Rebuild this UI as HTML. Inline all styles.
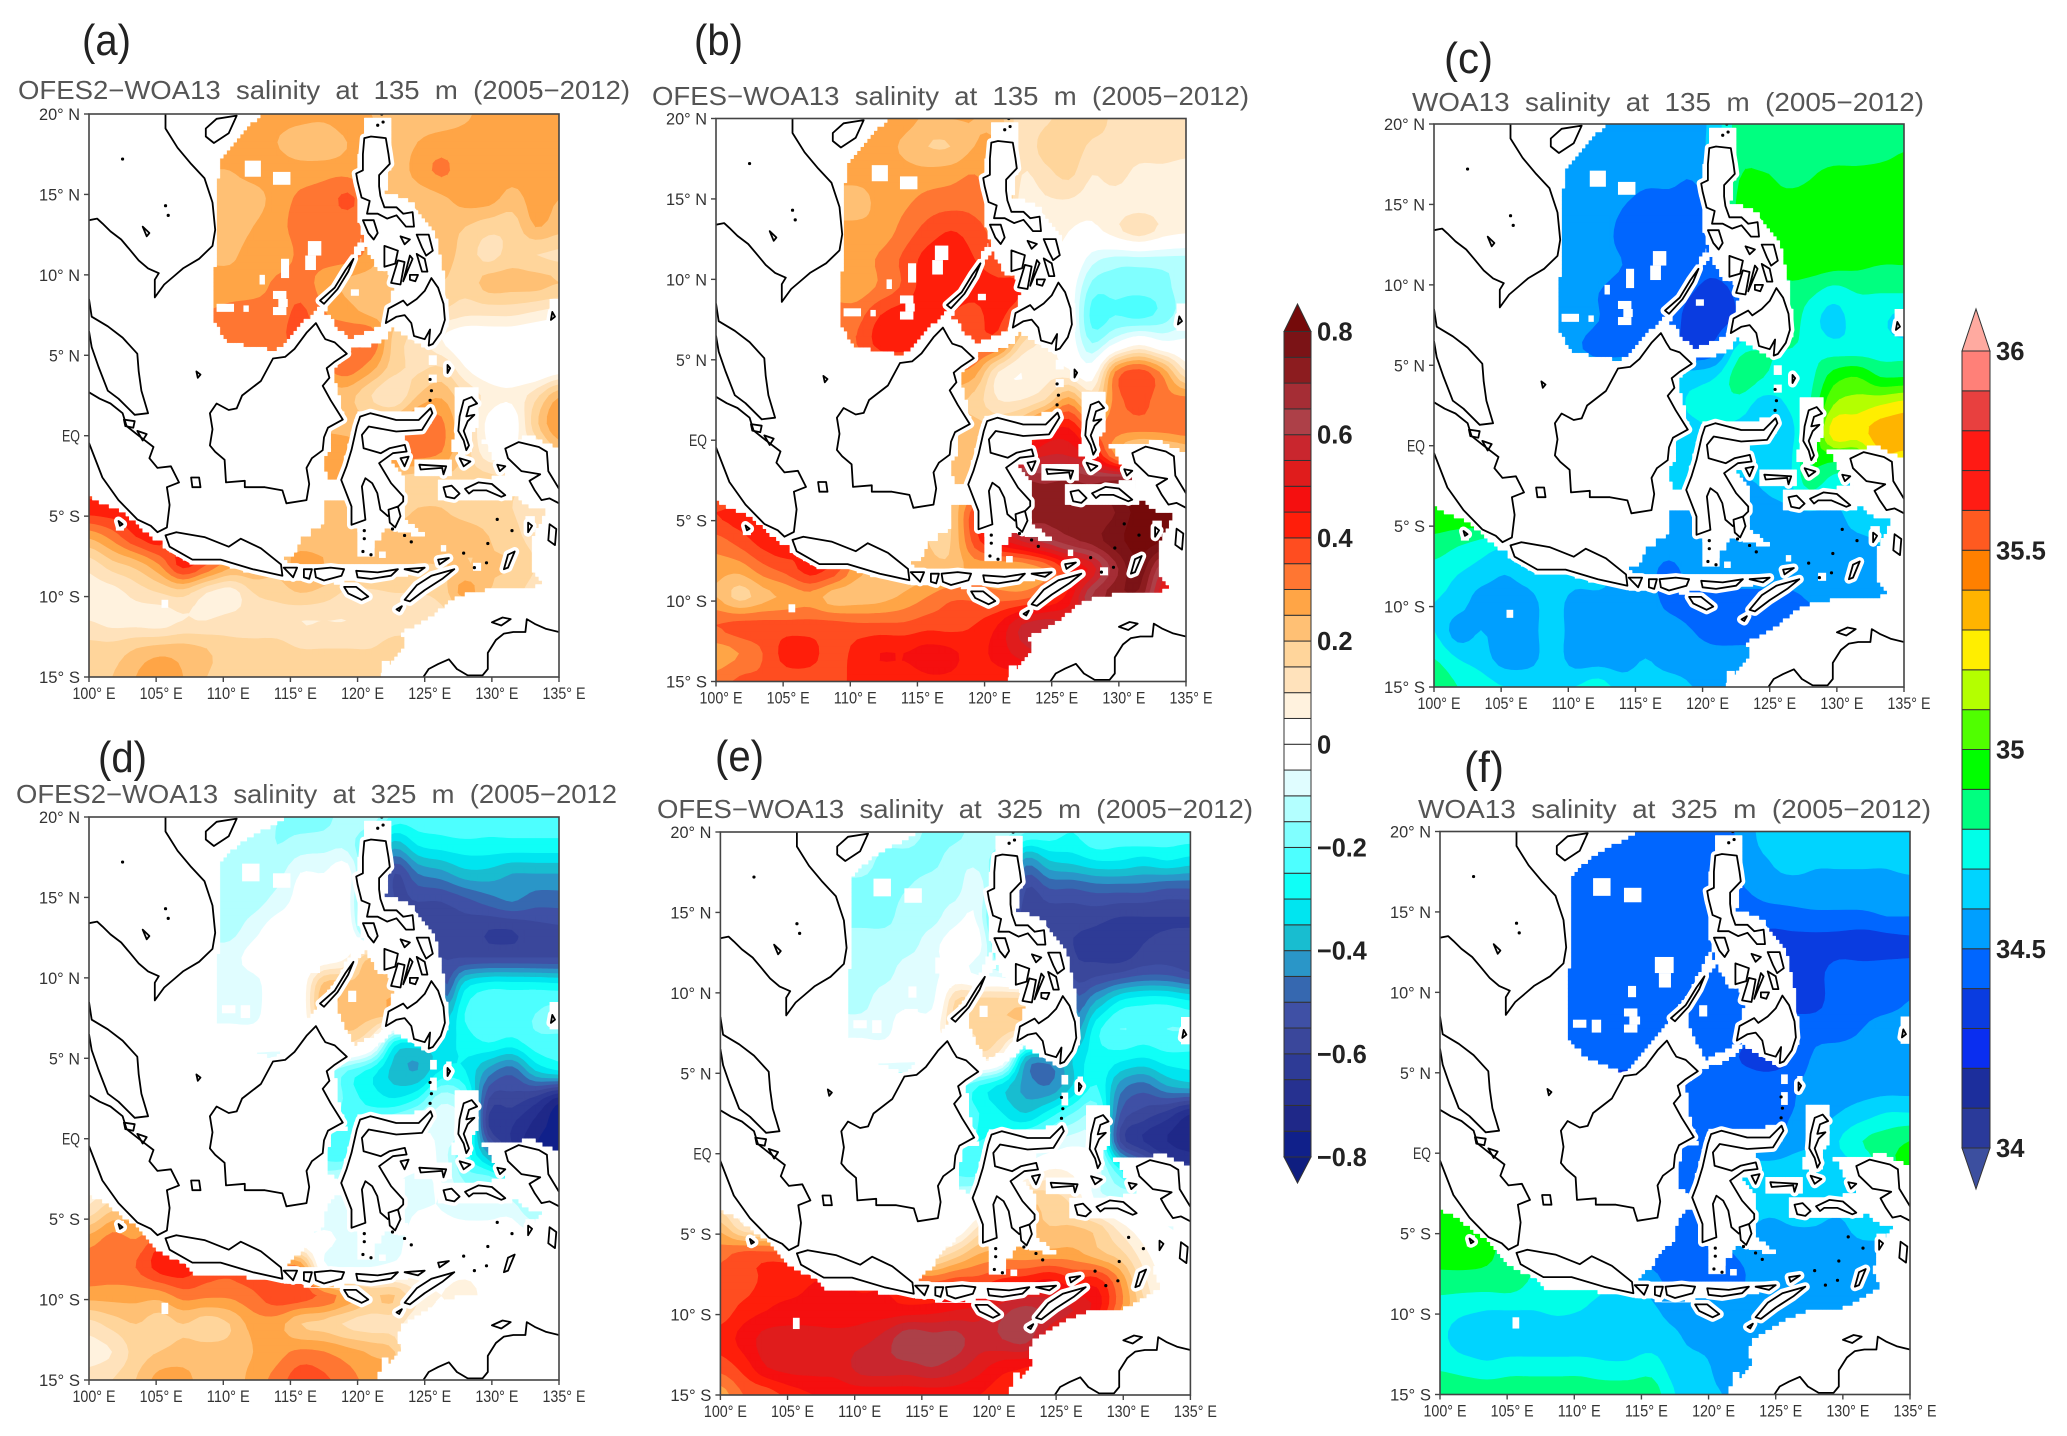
<!DOCTYPE html>
<html lang="en">
<head>
<meta charset="utf-8">
<title>Salinity maps at 135 m and 325 m</title>
<style>
html,body{margin:0;padding:0;background:#fff;width:2067px;height:1436px;overflow:hidden}
svg{display:block}
text{font-family:"Liberation Sans",sans-serif;white-space:pre}
</style>
</head>
<body>
<svg id="figure" xmlns="http://www.w3.org/2000/svg" width="2067" height="1436" viewBox="0 0 2067 1436"></svg>
<script>
// Longitudes run 100..135 E and latitudes 20 N..15 S; every grid below has 21 rows x 21 columns.
const lonTicks=[100,105,110,115,120,125,130,135];
const latTicks=[20,15,10,5,0,-5,-10,-15];
// Salinity differences in 0.01 units
const ofes2Minus135=[
[27,27,27,27,27,27,27,27,27,27,27,30,25,22,22,22,24,27,27,27,27],
[27,27,27,27,27,27,27,27,25,22,20,25,27,22,25,27,27,27,27,27,28],
[25,25,25,25,25,25,25,27,27,27,28,28,25,22,27,31,27,27,27,27,27],
[22,22,22,22,22,22,22,23,27,31,32,36,30,22,22,24,27,27,23,27,25],
[22,22,22,22,22,22,22,25,28,32,32,32,30,22,22,22,20,17,17,25,22],
[24,24,24,24,24,24,24,27,27,31,32,32,28,20,22,22,18,13,17,15,14],
[27,27,27,27,27,27,27,27,31,32,28,24,22,20,20,20,17,22,22,22,20],
[30,30,30,30,30,30,31,32,32,36,30,27,23,22,20,15,12,12,12,10,8],
[32,32,32,32,32,32,32,32,33,37,33,34,34,18,13,5,0,0,0,-2,-3],
[30,30,30,30,30,30,30,30,30,30,30,33,27,17,14,15,5,0,0,-3,0],
[22,22,22,22,22,22,22,22,22,22,22,22,15,10,20,24,15,8,6,13,24],
[24,24,24,24,24,24,24,24,24,24,24,23,22,25,32,31,18,3,1,18,30],
[27,27,27,27,27,27,27,27,27,27,27,27,24,32,33,30,18,6,6,10,20],
[30,30,30,28,27,27,27,27,27,27,27,25,20,18,17,18,18,17,15,12,12],
[42,42,40,30,25,25,25,25,25,25,22,24,20,18,20,20,18,17,15,12,10],
[26,32,40,42,30,25,25,25,24,22,22,25,22,22,22,22,22,20,17,12,8],
[12,18,22,30,42,35,27,25,22,27,25,22,22,22,20,20,20,20,20,15,8],
[8,8,12,15,17,10,7,15,17,20,18,14,14,15,15,17,27,20,17,12,8],
[10,8,8,7,10,10,12,12,12,10,10,10,12,13,13,13,13,13,13,13,13],
[17,17,20,22,22,20,17,17,17,15,15,15,15,17,17,17,17,17,17,17,17],
[20,20,25,30,25,20,20,20,20,20,20,20,20,20,20,20,20,20,20,20,20]];
const ofesMinus135=[
[27,27,27,27,27,27,27,27,27,24,25,25,22,12,14,17,17,14,13,13,13],
[27,27,27,27,27,27,27,27,24,20,20,25,25,12,17,18,14,14,13,13,12],
[27,27,27,27,27,27,27,27,27,27,28,30,25,10,13,16,10,12,8,8,7],
[22,22,22,22,22,22,22,27,29,32,33,33,30,7,9,9,7,7,7,7,7],
[27,27,27,27,27,27,27,27,32,37,40,37,30,5,8,5,3,8,13,8,6],
[27,27,27,27,27,27,27,31,36,42,43,40,35,25,5,3,-8,-12,-12,-12,-12],
[27,27,27,27,27,27,27,31,36,43,43,42,42,40,10,0,-17,-18,-18,-17,-12],
[33,33,33,33,33,33,33,40,43,43,40,38,42,30,10,0,-22,-20,-22,-18,-12],
[35,35,35,35,35,35,35,42,43,43,40,38,35,15,8,0,-15,-5,3,-3,-3],
[30,30,30,30,30,30,30,30,30,30,30,27,10,5,8,6,0,30,37,28,10],
[22,22,22,22,22,22,22,22,22,22,22,18,10,10,15,27,15,32,37,32,32],
[22,22,22,22,22,22,22,22,22,22,22,22,22,28,42,45,33,32,32,32,33],
[24,24,24,24,24,24,24,24,24,24,24,24,40,50,55,55,48,30,20,22,25],
[30,30,30,28,27,27,27,27,27,27,24,24,50,70,70,72,70,75,78,78,78],
[40,42,42,30,25,25,25,25,22,20,20,38,45,72,72,72,70,75,82,82,80],
[33,37,42,42,30,25,25,25,22,20,20,37,47,55,62,68,72,78,82,80,70],
[27,27,33,37,42,38,27,24,22,22,22,27,25,25,30,42,52,68,78,60,50],
[25,18,23,26,28,22,22,23,26,30,34,34,33,33,38,47,65,72,72,50,40],
[35,37,37,37,37,37,36,36,36,38,38,40,45,55,58,55,50,50,50,50,50],
[27,30,35,42,42,37,42,45,45,47,46,43,47,52,55,50,50,50,50,50,50],
[32,36,36,37,37,37,42,42,42,44,44,42,42,42,42,42,42,42,42,42,42]];
const ofes2Minus325=[
[-7,-7,-7,-7,-7,-7,-7,-12,-15,-17,-17,-12,-12,-22,-22,-22,-20,-22,-22,-22,-22],
[-7,-7,-7,-7,-7,-7,-12,-12,-15,-13,-12,-12,-25,-38,-30,-28,-27,-27,-27,-27,-27],
[-12,-12,-12,-12,-12,-12,-12,-12,-12,-5,-5,-2,-30,-55,-45,-42,-37,-37,-40,-40,-40],
[-12,-12,-12,-12,-12,-12,-12,-12,-8,-3,-2,-2,-40,-55,-55,-55,-52,-48,-45,-48,-48],
[-12,-12,-12,-12,-12,-12,-12,-7,-2,-2,-2,0,-30,-55,-56,-56,-57,-60,-60,-57,-56],
[-7,-7,-7,-7,-7,-7,-7,-3,-3,-1,0,5,20,5,-50,-55,-55,-55,-55,-55,-55],
[-7,-7,-7,-7,-7,-7,-7,-7,-1,0,22,22,22,22,22,-48,-32,-27,-27,-27,-28],
[-7,-7,-7,-7,-7,-7,-7,-7,0,0,22,22,22,22,22,-35,-25,-20,-22,-20,-18],
[-2,-2,-2,-2,-2,-2,-2,-2,-2,-2,5,15,5,-27,-30,-33,-28,-25,-27,-22,-22],
[-12,-12,-12,-12,-12,-12,-12,-12,-12,-12,-12,-20,-27,-37,-40,-30,-30,-42,-48,-35,-30],
[-12,-12,-12,-12,-12,-12,-12,-12,-12,-12,-12,-22,-27,-30,-25,-12,-20,-55,-57,-62,-72],
[-20,-20,-20,-20,-20,-20,-20,-20,-20,-20,-20,-22,-18,-12,-7,-7,-12,-60,-65,-72,-78],
[-22,-22,-22,-22,-22,-22,-22,-22,-22,-22,-22,-22,-7,-2,-2,-7,-22,-40,-60,-70,-75],
[3,3,0,0,-5,-5,-5,-5,-5,-5,-10,-7,-5,-5,-7,-5,-15,-15,-20,-25,-25],
[12,20,20,15,5,0,0,0,-5,-10,-10,-7,-5,-7,-5,-5,-7,-7,-7,-15,-10],
[27,32,30,37,40,30,20,10,0,-3,-3,-7,-7,-7,-2,-2,-2,-2,-2,-2,-2],
[33,33,35,42,43,37,35,35,30,30,-3,-5,-5,-3,0,0,0,0,0,0,0],
[27,27,27,27,32,31,31,34,38,38,33,27,20,20,10,5,10,0,0,0,0],
[13,17,20,17,20,17,20,27,27,20,18,14,12,12,5,0,0,0,0,0,0],
[8,10,17,20,22,22,22,25,28,31,30,27,24,20,0,0,0,0,0,0,0],
[12,15,20,27,27,22,22,27,32,38,36,32,28,25,0,0,0,0,0,0,0]];
const ofesMinus325=[
[-12,-12,-12,-12,-12,-12,-12,-12,-12,-17,-17,-12,-12,-20,-22,-25,-20,-22,-20,-22,-22],
[-12,-12,-12,-12,-12,-12,-12,-17,-17,-17,-12,-12,-22,-42,-35,-33,-30,-30,-32,-30,-32],
[-17,-17,-17,-17,-17,-17,-17,-17,-15,-12,-12,-7,-30,-55,-50,-50,-48,-48,-48,-50,-50],
[-17,-17,-17,-17,-17,-17,-17,-17,-12,-12,-7,-7,-40,-58,-58,-58,-58,-60,-60,-60,-60],
[-12,-12,-12,-12,-12,-12,-12,-12,-12,-7,-2,-3,-30,-60,-58,-60,-62,-65,-60,-58,-58],
[-12,-12,-12,-12,-12,-12,-12,-12,-7,-7,-2,-7,-10,-20,-40,-57,-57,-55,-52,-52,-55],
[-12,-12,-12,-12,-12,-12,-12,-7,-7,-7,15,17,17,17,15,-45,-40,-30,-27,-27,-30],
[-7,-7,-7,-7,-7,-7,-7,-7,0,0,15,15,17,15,15,-40,-27,-20,-22,-20,-20],
[-3,-3,-3,-3,-3,-3,-3,-3,-3,-3,0,12,3,-37,-40,-35,-27,-28,-30,-27,-27],
[-17,-17,-17,-17,-17,-17,-17,-17,-17,-17,-17,-25,-32,-42,-45,-35,-25,-42,-47,-40,-37],
[-22,-22,-22,-22,-22,-22,-22,-22,-22,-22,-22,-25,-30,-35,-28,-20,-17,-50,-57,-62,-70],
[-22,-22,-22,-22,-22,-22,-22,-22,-22,-22,-22,-25,-22,-17,-12,-7,-12,-55,-65,-70,-72],
[-22,-22,-22,-22,-22,-22,-22,-22,-22,-22,-22,-22,-7,-2,5,3,-7,-25,-40,-55,-60],
[5,5,5,5,0,0,0,0,-5,-10,-10,-7,0,17,17,12,-7,-10,-10,-10,-10],
[22,10,10,10,5,0,0,0,-3,-3,-3,10,17,22,20,20,17,7,0,-5,-7],
[33,37,37,37,37,30,20,15,10,10,17,25,27,27,27,27,22,17,7,0,0],
[37,37,42,42,45,45,42,42,37,35,38,38,42,44,47,42,43,30,12,3,0],
[37,42,45,47,47,46,47,47,47,48,50,52,58,62,58,55,47,30,15,0,0],
[42,47,52,52,52,52,53,57,64,62,62,57,60,62,50,40,30,10,0,0,0],
[37,42,50,52,52,52,57,58,58,60,57,52,47,45,42,30,10,0,0,0,0],
[27,35,37,42,45,47,47,47,47,47,47,45,42,42,30,10,0,0,0,0,0]];
// Absolute salinity in 0.01 units
const woa135=[
[3455,3455,3455,3455,3455,3455,3455,3455,3455,3455,3455,3455,3465,3485,3485,3485,3485,3485,3485,3485,3485],
[3455,3455,3455,3455,3455,3455,3455,3455,3455,3455,3455,3455,3465,3485,3485,3485,3485,3485,3485,3487,3490],
[3455,3455,3455,3455,3455,3455,3455,3455,3455,3452,3452,3450,3460,3490,3492,3488,3490,3495,3495,3495,3495],
[3455,3455,3455,3455,3455,3455,3455,3455,3450,3445,3445,3445,3455,3495,3495,3495,3495,3495,3495,3495,3495],
[3455,3455,3455,3455,3455,3455,3455,3455,3447,3445,3445,3445,3450,3495,3495,3495,3495,3495,3495,3495,3495],
[3455,3455,3455,3455,3455,3455,3455,3455,3450,3445,3445,3445,3445,3460,3490,3495,3495,3493,3492,3490,3490],
[3455,3455,3455,3455,3455,3455,3455,3450,3445,3445,3445,3440,3435,3445,3470,3485,3482,3475,3480,3480,3480],
[3455,3455,3455,3455,3455,3455,3455,3450,3445,3445,3445,3435,3435,3445,3475,3485,3475,3465,3475,3472,3465],
[3452,3452,3452,3452,3452,3452,3452,3445,3445,3445,3445,3440,3445,3475,3480,3480,3478,3475,3475,3475,3475],
[3465,3465,3465,3465,3465,3465,3465,3465,3465,3465,3465,3465,3470,3485,3480,3475,3477,3495,3500,3490,3490],
[3465,3465,3465,3465,3465,3465,3465,3465,3465,3465,3465,3472,3475,3475,3465,3470,3480,3510,3515,3520,3525],
[3465,3465,3465,3465,3465,3465,3465,3465,3465,3465,3465,3465,3470,3465,3465,3465,3485,3525,3525,3535,3535],
[3495,3495,3490,3480,3470,3465,3465,3465,3465,3465,3465,3465,3465,3465,3465,3465,3490,3490,3490,3520,3520],
[3495,3495,3495,3490,3480,3470,3465,3465,3465,3465,3465,3460,3455,3455,3460,3465,3480,3470,3465,3465,3465],
[3495,3495,3495,3490,3480,3470,3465,3460,3455,3455,3455,3455,3455,3455,3455,3455,3455,3455,3465,3465,3465],
[3485,3480,3475,3470,3470,3465,3460,3455,3455,3455,3455,3455,3455,3455,3455,3455,3455,3455,3455,3460,3465],
[3475,3470,3465,3460,3465,3470,3465,3465,3455,3455,3445,3455,3455,3455,3455,3455,3455,3455,3455,3455,3455],
[3470,3465,3455,3455,3455,3465,3455,3455,3455,3455,3447,3445,3445,3445,3445,3445,3450,3450,3450,3450,3450],
[3470,3455,3460,3455,3455,3465,3455,3455,3455,3455,3455,3450,3445,3445,3445,3445,3445,3445,3445,3445,3445],
[3480,3470,3465,3455,3455,3465,3455,3455,3455,3460,3455,3455,3455,3455,3455,3455,3455,3455,3455,3455,3455],
[3490,3480,3475,3470,3470,3470,3470,3475,3465,3465,3465,3460,3460,3460,3460,3460,3460,3460,3460,3460,3460]];
const woa325=[
[3445,3445,3445,3445,3445,3445,3445,3445,3445,3445,3445,3445,3445,3455,3465,3465,3465,3465,3465,3465,3465],
[3445,3445,3445,3445,3445,3445,3445,3445,3445,3445,3445,3445,3445,3455,3460,3465,3462,3462,3462,3462,3465],
[3445,3445,3445,3445,3445,3445,3445,3445,3445,3445,3445,3445,3445,3450,3455,3455,3455,3455,3455,3455,3455],
[3445,3445,3445,3445,3445,3445,3445,3445,3445,3445,3445,3445,3445,3445,3445,3447,3448,3448,3448,3450,3450],
[3445,3445,3445,3445,3445,3445,3445,3445,3445,3445,3445,3445,3445,3445,3435,3435,3435,3435,3433,3435,3437],
[3445,3445,3445,3445,3445,3445,3445,3445,3445,3445,3445,3445,3445,3440,3435,3437,3437,3445,3445,3445,3445],
[3445,3445,3445,3445,3445,3445,3445,3445,3445,3445,3445,3445,3445,3445,3437,3435,3437,3445,3445,3445,3450],
[3445,3445,3445,3445,3445,3445,3445,3445,3445,3445,3445,3445,3445,3445,3445,3445,3445,3445,3450,3455,3455],
[3445,3445,3445,3445,3445,3445,3445,3445,3445,3445,3445,3445,3445,3438,3435,3440,3452,3455,3455,3455,3455],
[3435,3435,3435,3435,3435,3435,3435,3435,3435,3435,3435,3445,3445,3445,3445,3448,3455,3455,3455,3455,3455],
[3445,3445,3445,3445,3445,3445,3445,3445,3445,3445,3445,3445,3445,3440,3445,3450,3455,3460,3465,3470,3470],
[3445,3445,3445,3445,3445,3445,3445,3445,3445,3445,3445,3445,3445,3445,3445,3455,3460,3470,3480,3485,3490],
[3495,3495,3490,3470,3460,3450,3445,3445,3445,3445,3445,3450,3460,3465,3465,3465,3465,3465,3470,3485,3490],
[3495,3490,3490,3475,3460,3450,3445,3445,3445,3445,3445,3450,3460,3465,3465,3465,3465,3465,3465,3465,3465],
[3495,3495,3492,3485,3470,3455,3445,3445,3445,3445,3445,3450,3455,3460,3458,3460,3460,3458,3465,3465,3465],
[3495,3495,3492,3485,3480,3470,3460,3450,3445,3445,3445,3445,3448,3452,3455,3455,3455,3455,3455,3455,3455],
[3485,3485,3485,3485,3478,3475,3475,3470,3465,3455,3445,3445,3447,3450,3455,3455,3455,3455,3455,3455,3455],
[3475,3472,3470,3470,3470,3472,3470,3465,3465,3462,3455,3455,3455,3455,3455,3455,3455,3455,3455,3455,3455],
[3472,3465,3465,3462,3462,3462,3462,3465,3465,3465,3462,3455,3455,3455,3455,3455,3455,3455,3455,3455,3455],
[3478,3475,3472,3475,3475,3475,3475,3472,3472,3475,3465,3465,3455,3455,3455,3455,3455,3455,3455,3455,3455],
[3490,3488,3488,3487,3487,3487,3487,3487,3487,3486,3470,3465,3460,3455,3455,3455,3455,3455,3455,3455,3455]];

const anomalyLevels=[-80,-75,-70,-65,-60,-55,-50,-45,-40,-35,-30,-25,-20,-15,-10,-5,0,5,10,15,20,25,30,35,40,45,50,55,60,65,70,75,80];
const anomalyColors=["#0f1e80","#10208a","#1f2888","#263190","#2e3b96","#3a479b","#3f50a5","#3668b0","#2a96c8","#18bdd0","#00e5f0","#0ffff7","#4dffff","#80ffff","#b3ffff","#e0fdff","#ffffff","#ffffff","#fff2de","#ffe2bb","#ffd59b","#ffc074","#ffa546","#ff7632","#ff4d20","#ff1e0a","#f50f0f","#e01c1c","#c9262e","#ad4048","#a52d35","#8c1c1f","#7b1316","#750a0a"];
const anomalyLabels=[0.8,0.6,0.4,0.2,0,-0.2,-0.4,-0.6,-0.8];
const salinityLevels=[3400,3410,3420,3430,3440,3450,3460,3470,3480,3490,3500,3510,3520,3530,3540,3550,3560,3570,3580,3590,3600];
const salinityColors=["#3c4f9f","#2a3a9a","#1c2e9c","#0a2ef0","#0a3ce0","#0066ff","#009fff","#00d4ff","#00ffe8","#00ff80","#00ff00","#50ff00","#b4ff00","#ffee00","#ffb400","#ff8000","#ff5a20","#ff1c14","#ff1a14","#e8403f","#ff8078","#ffaaa0"];
const salinityLabels=[36,35.5,35,34.5,34];

// Coastlines as lon/lat vertices
const openCoasts=[
[[105.7,20],[105.7,19.1],[106.6,17.9],[107.6,16.9],[108.6,16],[109.2,14.5],[109.4,12.8],[109.2,11.8],[108.2,11],[107,10.4],[106.3,9.9],[105.6,9.4],[104.9,8.6],[104.9,9.7],[105.2,10.1],[104.4,10.4],[103.7,10.9],[103,11.6],[102.4,12.2],[101.6,12.7],[101,13.2],[100.6,13.5],[100,13.4]],
[[100,8.5],[100.2,7.4],[101.4,6.8],[102.5,6.1],[103.6,5.1],[103.7,4],[103.9,2.8],[104.4,1.4],[103.4,1.3],[102.2,2.3],[101.4,2.8],[100.7,4.3],[100.2,5.5],[100,6.5]],
[[100,2.7],[100.8,2.3],[101.6,2],[102.5,1.4],[102.8,.6],[103.7,0],[104.8,-.7],[104.5,-1.4],[105.1,-2],[106.1,-1.9],[106.7,-2.9],[105.8,-3.2],[106,-4.3],[105.8,-5.7],[105.1,-6],[104.6,-5.6],[103.6,-5.2],[102.2,-4],[101,-2.6],[100,-.45]],
[[124.9,-15],[125.3,-14.5],[126,-14.2],[126.8,-13.9],[127.4,-14.5],[128.2,-14.9],[129.3,-14.9],[129.7,-14.5],[129.7,-13.5],[130.3,-12.7],[130.9,-12.3],[131.6,-12.2],[132.5,-12.2],[132.6,-11.4],[133.2,-11.7],[134,-12],[135,-12.2]],
[[135,-3.3],[134.2,-2.2],[134.1,-1],[133.5,-.7],[132,-.4],[131,-.8],[131.2,-1.4],[132.2,-2.2],[133.6,-2.4],[132.8,-2.8],[133.2,-3.4],[133.7,-4],[134.3,-3.9],[135,-4.2]]
];
const islands=[
[[116.9,7],[117.3,6.4],[117.6,6],[118.3,5.8],[119.2,5.1],[118.3,4.6],[117.7,4.2],[117.9,3.6],[117.4,3.1],[118,2.2],[118.9,1],[117.8,.5],[117.5,-.1],[117.4,-.9],[116.6,-1.4],[116.2,-2],[116.4,-3],[116.2,-4],[114.7,-4.2],[114.4,-3.4],[113.1,-3.2],[111.6,-3.2],[111.6,-2.8],[110.2,-2.9],[110.1,-1.5],[109.4,-1],[109,-.6],[109.2,.4],[109,1.4],[109.5,2],[110.4,1.6],[111,1.7],[111.4,2.5],[112.8,3.4],[113.7,4.8],[114.6,4.9],[115.3,5.4],[116.2,6.4]],
[[105.7,-6.2],[106.5,-6],[108.6,-6.3],[110.4,-6.9],[111.3,-6.4],[112.8,-7],[114.3,-8],[114.4,-8.7],[112.2,-8.3],[109.8,-7.7],[107.7,-7.7],[106,-6.9]],
[[108.7,19.1],[109.5,19.7],[111,19.9],[110.4,18.8],[109.3,18.2],[108.7,18.6]],
[[117.2,8.4],[118.3,9.2],[119.1,10.3],[119.7,11],[119.3,10.2],[118.5,9.1],[117.5,8.2]],
[[120.5,18.5],[121,18.6],[122.1,18.5],[122.3,17.5],[122.4,16.9],[121.6,16.2],[121.6,15.5],[121.7,14.9],[122,14.2],[122.9,14.2],[123.4,13.8],[124.1,13.9],[124.2,13],[123.6,13],[122.9,13.7],[122.2,13.5],[121.5,13.8],[120.7,13.8],[120.9,14.6],[120.3,14.8],[120,15.8],[119.9,16.3],[120.4,16.5],[120.4,17.5]],
[[120.4,13.4],[121.2,13.4],[121.5,12.6],[121.2,12.2],[120.8,12.6]],
[[124.4,12.5],[125.3,12.5],[125.6,11.5],[125.1,11.2],[124.8,11.7]],
[[124.4,11.3],[125,11],[125.2,10.2],[124.8,10.2]],
[[122,11.8],[123,11.5],[122.8,10.7],[122,10.5]],
[[123,10.9],[123.5,10.8],[123.2,9.4],[122.5,9.5]],
[[123.9,11.2],[124.1,11],[123.4,9.6]],
[[123.9,10],[124.5,10],[124.3,9.6],[123.9,9.7]],
[[123.2,12.4],[123.9,12.2],[123.5,11.9]],
[[125.5,9.8],[126,9.2],[126.4,8.2],[126.5,7.2],[126.2,6.4],[125.6,5.7],[125.3,5.6],[125.4,6.6],[125,6],[124.2,6.2],[124,7],[123.5,7.5],[122.9,7.4],[122.1,7],[122.3,7.9],[123.4,8.4],[123.7,8.1],[124.4,8.5],[125,9]],
[[120.96,1.4],[122.88,.98],[124.55,.98],[125.44,1.71],[125.57,1.4],[124.8,.36],[122.88,.26],[120.83,.57],[120.32,.05],[120.45,-.78],[121.73,-1.09],[122.37,-.78],[123.52,-.57],[123.65,-.98],[122.63,-1.09],[121.6,-1.71],[122.5,-2.95],[123.4,-3.78],[123.4,-4.09],[122.9,-4.5],[122.25,-5],[121.7,-4.6],[121.47,-3.57],[121.09,-2.95],[120.58,-2.64],[120.32,-3.16],[120.58,-5.23],[119.55,-5.54],[119.55,-4.4],[118.78,-2.75],[119.17,-1.92],[119.55,-.88],[119.94,.57],[120.19,1.19]],
[[122.3,-4.6],[123,-4.4],[123.2,-5],[122.8,-5.7],[122.4,-5.4]],
[[123.2,-1.4],[123.8,-1.3],[123.5,-1.9]],
[[124.6,-1.8],[126.6,-1.9],[126.4,-2.4],[126.3,-2],[124.7,-2.1]],
[[126.4,-3.2],[127,-3.1],[127.6,-3.6],[127.2,-3.9],[126.6,-3.8]],
[[128,-3.3],[129,-2.9],[130,-3],[131,-3.7],[130.7,-3.8],[129.6,-3.4],[128.6,-3.4],[128.3,-3.6]],
[[128.5,2.4],[127.9,2.2],[127.6,1.2],[127.5,.3],[127.9,-.3],[128.1,-.9],[128.3,-.6],[127.9,.3],[128.2,.9],[128.7,1.3],[128.1,1.2],[128.3,1.8],[128.9,2]],
[[127.6,-1.4],[128.4,-1.6],[127.9,-1.9]],
[[130.4,-1.8],[131,-1.9],[130.6,-2.2]],
[[131.2,-7.4],[131.7,-7.2],[131.2,-8.2],[130.9,-8.3]],
[[134.3,-5.5],[134.8,-5.8],[134.7,-6.8],[134.2,-6.5]],
[[132.7,-5.4],[133,-5.6],[132.7,-6]],
[[126,-7.7],[126.8,-7.6],[126.1,-8]],
[[123.5,-10.2],[124.4,-9.3],[125.5,-8.7],[127.2,-8.3],[126.3,-8.9],[125,-9.6],[123.9,-10.3]],
[[122.9,-10.8],[123.3,-10.6],[123.1,-10.9]],
[[119,-9.4],[119.9,-9.4],[120.8,-10],[120.3,-10.2],[119.3,-9.8]],
[[114.5,-8.2],[115.5,-8.2],[115.2,-8.8]],
[[116,-8.3],[116.6,-8.3],[116.4,-8.9],[116,-8.8]],
[[116.8,-8.3],[118,-8.2],[119,-8.3],[118.8,-8.7],[117.5,-9],[116.9,-8.8]],
[[119.9,-8.4],[121.5,-8.5],[123,-8.3],[122.5,-8.7],[121,-8.9],[120,-8.8]],
[[123.5,-8.3],[125,-8.2],[124.5,-8.5]],
[[130,-11.6],[130.8,-11.3],[131.4,-11.4],[130.7,-11.8]],
[[107.6,-2.6],[108.2,-2.6],[108.3,-3.2],[107.7,-3.2]],
[[108,4],[108.3,3.8],[108.1,3.6]],
[[102.6,1],[103.4,.9],[103.3,.5],[102.7,.6]],
[[103.6,.3],[104.3,.1],[104,-.3]],
[[104,13],[104.5,12.6],[104.3,12.4]],
[[134.5,7.7],[134.7,7.4],[134.4,7.2]],
[[126.7,4.4],[126.9,4.2],[126.7,3.9]],
[[102.2,-5.3],[102.5,-5.5],[102.3,-5.6]]
];
const islets=[[102.5,17.2],[105.7,14.3],[105.9,13.7],[125.4,3.5],[125.5,2.8],[125.4,2.2],[121.8,20],[121.9,19.5],[121.5,19.3],[129.7,-6.7],[130.4,-5.2],[131.5,-5.9],[127.9,-7.3],[128.7,-8.2],[129.6,-7.9],[120.5,-5.9],[120.5,-6.4],[120.4,-7.2],[121,-7.4],[122.6,-5.8],[123.5,-6.2],[124,-6.6]];

// Masked (no-data) regions as lon/lat vertices
const westMask135=[[100,20],[113,20],[111.6,18.8],[109.9,17.3],[109.6,15.7],[109.6,12],[109.3,10],[109.2,7.1],[110.2,5.8],[113.4,5.3],[114.1,5.4],[117.1,8],[118.5,9.6],[119.6,11.2],[120.2,12.3],[120.6,11.6],[119.5,10.3],[118,8.5],[117.6,7.6],[118.3,6.8],[119.2,6],[120.5,6.4],[122.2,7.1],[122.5,6.5],[121.8,5.7],[119.6,5.4],[118.3,4.1],[118.3,3.2],[118.6,2.4],[119,1.1],[118.1,.7],[118.1,-.9],[117.4,-1.4],[117.7,-2.7],[119,-2.8],[119.2,-3.9],[117.4,-3.9],[117.4,-5.2],[117.5,-5.6],[116.6,-5.9],[116.5,-6.3],[115.8,-6.4],[115.3,-7.4],[114.6,-7.7],[114.7,-8.7],[112.2,-8.5],[109.8,-7.95],[107.7,-7.9],[106,-7.1],[105.4,-6.6],[104.9,-6.5],[104,-5.7],[102.5,-4.7],[101,-4.2],[100,-3.6]];
const southeastMask135=[[135,-4],[134.2,-4.4],[134,-5],[133,-6.5],[133,-8.5],[133.8,-9.2],[132.8,-9.6],[130.5,-9.5],[129,-9.7],[127.5,-10],[126,-11],[124.5,-11.8],[123.3,-12.3],[123.5,-13.2],[122.8,-14],[122,-14.6],[121.8,-15],[135,-15]];
const westMask325=[[100,20],[114.9,20],[111.5,18.5],[109.8,17.1],[109.8,13.3],[109.5,10],[109.5,7],[110.6,6],[113.2,5.1],[113.8,5.1],[116.6,7.8],[118.5,10],[120,12.5],[120.6,11.6],[119.5,10.6],[118.6,9.1],[118.4,7.9],[119.7,5.8],[121,6.3],[122.2,7.1],[122.4,6.4],[121.5,5.7],[119.5,5.2],[118.3,4.2],[118.5,2.5],[119.2,.6],[118,.6],[117.7,-2.2],[118.7,-2.8],[119,-3.5],[118.3,-3.5],[117.5,-4.6],[117.6,-5.5],[117.2,-5.7],[116.6,-6],[115.8,-7.2],[114.9,-7.7],[114.7,-8.8],[116.8,-9.2],[118.7,-9.2],[116.8,-9.3],[114.5,-8.8],[110,-8.5],[108,-8.4],[107,-7.7],[105.8,-7.2],[105,-6.8],[103.7,-5.5],[101.6,-4.1],[100,-3.5]];
const southeastMask325=[[135,-4],[134,-4.6],[132.8,-5.5],[132.3,-7.4],[132.8,-8.5],[130.6,-9.6],[126.9,-9.9],[123.4,-11.5],[122.9,-12.3],[123.3,-13.2],[121.5,-14.8],[121.4,-15],[135,-15]];
const sharedMasks=[
[[120.4,19.7],[122.5,19.7],[122.6,17.4],[122.1,15.1],[124,14.5],[124.6,13.7],[125.8,12.5],[126.4,10],[126.8,7.1],[126,5.7],[125.3,5.5],[123.8,6.2],[122.6,6.8],[122,7.4],[122.6,8.8],[122.7,10],[121.6,10.4],[120.7,11.7],[120.1,13.4],[119.8,16.2],[120.4,18.8]],
[[120.07,1.4],[125.57,1.7],[125.57,.85],[123.4,.15],[123.4,-1.1],[122.4,-1.8],[123.6,-2.75],[123.6,-5.2],[124.9,-6.3],[122.2,-5.7],[121,-7.3],[119.95,-5.85],[118.8,-2.75],[119.15,-.9],[119.9,1.2]],
[[120,-5.6],[121.2,-5.6],[121.2,-7.5],[120.1,-7.5]],
[[114.5,-8],[119,-7.95],[124.5,-7.9],[125,-8.5],[119,-9.15],[114.5,-9]],
[[127.1,-.9],[127.2,2.9],[129,2.9],[129.1,.6],[128.6,0],[128.5,-.9],[127.9,-1.3]],
[[129.3,-.2],[133,-.1],[135,-.9],[135,-4.4],[133,-4.5],[131.7,-3.7],[130.8,-1.9],[130.3,-1.6],[130,-1]],
[[124.3,-1.5],[126.9,-1.5],[126.9,-2.6],[124.3,-2.4]],
[[126,-2.7],[131.3,-2.6],[131.5,-4],[127.5,-4.1],[126,-4]]
];
// Missing-data boxes: lon1, lat1, lon2, lat2
const holes135=[[111.6,17.1,112.8,16.1],[113.7,16.4,115,15.6],[116.3,12.1,117.3,11.2],[116.1,11.2,116.9,10.3],[114.3,11,114.9,9.8],[112.7,10,113.1,9.4],[113.7,9,114.7,8.5],[114.1,8.5,114.8,8],[113.7,8,114.7,7.5],[109.5,8.2,110.8,7.7],[111.5,8.1,111.9,7.7],[119.5,9.1,120.1,8.7],[134.3,8.5,135,6.8],[125.3,5,125.9,4.4],[125.3,3.8,125.9,3.3],[121.6,-7.2,122.1,-7.6],[102,-5.2,102.6,-5.9],[121.8,-14,122.4,-14.8],[105.4,-10.2,105.9,-10.7],[132.5,-5,133.2,-6],[126.2,-6.8,126.6,-7.2],[128.6,-7.9,129.2,-8.4]];
const holes325=[[111.4,17.1,112.7,16],[113.7,16.5,115,15.6],[116,12.2,117.4,11.2],[116.3,11.2,117.2,10.3],[114,10.4,114.6,9.7],[113.7,9,114.7,8.5],[114.1,8.5,114.9,8],[113.7,8,114.7,7.5],[109.9,8.3,110.9,7.8],[111.3,8.3,112,7.5],[119.3,9.2,119.9,8.5],[134.3,8.5,135,6.8],[125.4,4.9,125.9,4.3],[125.4,3.8,125.9,3],[126.6,4.8,127,3.8],[121.6,-7.2,122.1,-7.6],[102,-5.1,102.6,-5.8],[105.4,-10.2,105.9,-10.9],[132.5,-5,133.2,-6],[121.8,-13.6,122.3,-14.6]];

const panels=[
{id:"a",x0:89,y0:114,grid:ofes2Minus135,scale:"anomaly",depth:135,title:"OFES2\u2212WOA13  salinity  at  135  m  (2005\u22122012)",tx:18,tw:612,ty:99,lx:82,ly:55},
{id:"b",x0:716,y0:118.5,grid:ofesMinus135,scale:"anomaly",depth:135,title:"OFES\u2212WOA13  salinity  at  135  m  (2005\u22122012)",tx:652,tw:597,ty:105,lx:694,ly:55},
{id:"c",x0:1434,y0:124,grid:woa135,scale:"salinity",depth:135,title:"WOA13  salinity  at  135  m  (2005\u22122012)",tx:1412,tw:512,ty:111,lx:1444,ly:73},
{id:"d",x0:89,y0:817,grid:ofes2Minus325,scale:"anomaly",depth:325,title:"OFES2\u2212WOA13  salinity  at  325  m  (2005\u22122012",tx:16,tw:601,ty:803,lx:98,ly:772},
{id:"e",x0:720.4,y0:832,grid:ofesMinus325,scale:"anomaly",depth:325,title:"OFES\u2212WOA13  salinity  at  325  m  (2005\u22122012)",tx:657,tw:596,ty:818,lx:715,ly:771},
{id:"f",x0:1440,y0:831.5,grid:woa325,scale:"salinity",depth:325,title:"WOA13  salinity  at  325  m  (2005\u22122012)",tx:1418,tw:513,ty:818,lx:1464,ly:782}
];
const FRAME_W=470,FRAME_H=563;
const NS="http://www.w3.org/2000/svg";
const fig=document.getElementById("figure");
function mk(tag,attrs,parent){const e=document.createElementNS(NS,tag);for(const k in attrs)e.setAttribute(k,attrs[k]);(parent||fig).appendChild(e);return e;}
function fitText(t,w){t.setAttribute("textLength",w);t.setAttribute("lengthAdjust","spacingAndGlyphs");}
function cr(a,b,c,d,t){return b+.5*t*(c-a+t*(2*a-5*b+4*c-d+t*(3*(b-c)+d-a)));}
function upsample(grid,u){
  const n=grid.length,m=(n-1)*u+1,out=[];
  const at=(j,i)=>grid[Math.max(0,Math.min(n-1,j))][Math.max(0,Math.min(grid[0].length-1,i))];
  for(let j=0;j<m;j++){const row=[],jf=j/u,j0=Math.min(Math.floor(jf),n-2),tj=jf-j0;
    for(let i=0;i<m;i++){const f=i/u,i0=Math.min(Math.floor(f),n-2),ti=f-i0,c=[];
      for(let q=-1;q<=2;q++)c.push(cr(at(j0+q,i0-1),at(j0+q,i0),at(j0+q,i0+1),at(j0+q,i0+2),ti));
      row.push(cr(c[0],c[1],c[2],c[3],tj));}
    out.push(row);}
  return out;
}
function bandPath(f,t,xAt,yAt){
  const m=f.length;let d="";
  for(let j=0;j<m-1;j++){let run=-1;
    for(let i=0;i<m;i++){
      const full=i<m-1&&f[j][i]>=t&&f[j][i+1]>=t&&f[j+1][i]>=t&&f[j+1][i+1]>=t;
      if(full){if(run<0)run=i;continue;}
      if(run>=0){d+=`M${xAt(run).toFixed(1)} ${yAt(j).toFixed(1)}H${xAt(i).toFixed(1)}V${yAt(j+1).toFixed(1)}H${xAt(run).toFixed(1)}Z`;run=-1;}
      if(i===m-1)continue;
      const c=[[i,j],[i+1,j],[i+1,j+1],[i,j+1]],pts=[];
      for(let k=0;k<4;k++){const a=c[k],b=c[(k+1)%4],va=f[a[1]][a[0]],vb=f[b[1]][b[0]];
        if(va>=t)pts.push([xAt(a[0]),yAt(a[1])]);
        if((va>=t)!==(vb>=t)){const s=(t-va)/(vb-va);pts.push([xAt(a[0]+(b[0]-a[0])*s),yAt(a[1]+(b[1]-a[1])*s)]);}
      }
      if(pts.length>2)d+="M"+pts.map(p=>p[0].toFixed(1)+" "+p[1].toFixed(1)).join("L")+"Z";
    }}
  return d;
}
function stairPath(poly,x,y){
  const s=.25,snap=v=>Math.round(v/s)*s;let d="";
  poly.forEach((p,idx)=>{const q=poly[(idx+1)%poly.length];
    if(idx===0)d+=`M${x(snap(p[0])).toFixed(1)} ${y(snap(p[1])).toFixed(1)}`;
    const n=Math.max(1,Math.ceil(Math.max(Math.abs(q[0]-p[0]),Math.abs(q[1]-p[1]))/s));
    for(let k=1;k<=n;k++){const a=snap(p[0]+(q[0]-p[0])*k/n),b=snap(p[1]+(q[1]-p[1])*k/n);
      d+=`H${x(a).toFixed(1)}V${y(b).toFixed(1)}`;}
  });
  return d+"Z";
}
function smoothLine(poly,x,y,close){return "M"+poly.map(p=>x(p[0]).toFixed(1)+" "+y(p[1]).toFixed(1)).join("L")+(close?"Z":"");}

panels.forEach(P=>{
  const x=lon=>P.x0+(lon-100)*FRAME_W/35, y=lat=>P.y0+(20-lat)*FRAME_H/35;
  const g=mk("g",{});
  
  
  const clip=mk("clipPath",{id:"clip-"+P.id},g);
  mk("rect",{x:P.x0,y:P.y0,width:FRAME_W,height:FRAME_H},clip);
  const label=mk("text",{x:P.lx,y:P.ly,"font-size":44,fill:"#222"},g);
  label.textContent="("+P.id+")";
  fitText(label,P.id==="f"?40:49);
  
  
  const title=mk("text",{x:P.tx,y:P.ty,"font-size":26,fill:"#555"},g);
  title.textContent=P.title;
  fitText(title,P.tw);
  
  
  const body=mk("g",{"clip-path":`url(#clip-${P.id})`},g);
  
  
  const levels=P.scale==="anomaly"?anomalyLevels:salinityLevels;
  const colors=P.scale==="anomaly"?anomalyColors:salinityColors;
  const U=4,f=upsample(P.grid,U),m=f.length;
  const xAt=i=>P.x0+i*FRAME_W/(m-1), yAt=j=>P.y0+j*FRAME_H/(m-1);
  mk("rect",{x:P.x0,y:P.y0,width:FRAME_W,height:FRAME_H,fill:colors[0]},body);
  levels.forEach((t,k)=>{
    const d=bandPath(f,t,xAt,yAt);
    if(!d)return;
    const band=mk("path",{d:d,fill:colors[k+1],stroke:colors[k+1],"stroke-width":.7},body);
    
    
  });
  // Mask and coast
  const westMask=P.depth===135?westMask135:westMask325;
  const seMask=P.depth===135?southeastMask135:southeastMask325;
  const holes=P.depth===135?holes135:holes325;
  [westMask,seMask].concat(sharedMasks).forEach(poly=>{
    const msk=mk("path",{d:stairPath(poly,x,y),fill:"#fff",stroke:"#fff","stroke-width":.5},body);
    
    
  });
  holes.forEach(h=>{
    const hole=mk("rect",{x:x(h[0]),y:y(h[1]),width:x(h[2])-x(h[0]),height:y(h[3])-y(h[1]),fill:"#fff"},body);
    
    
  });
  islands.forEach(poly=>{
    const halo=mk("path",{d:smoothLine(poly,x,y,true),fill:"#fff",stroke:"#fff","stroke-width":9,"stroke-linejoin":"round"},body);
    
    
  });
  islands.forEach(poly=>{
    const coast=mk("path",{d:smoothLine(poly,x,y,true),fill:"#fff",stroke:"#000","stroke-width":1.8,"stroke-linejoin":"round"},body);
    
    
  });
  openCoasts.forEach(poly=>{
    const coast=mk("path",{d:smoothLine(poly,x,y,false),fill:"none",stroke:"#000","stroke-width":1.8,"stroke-linejoin":"round"},body);
    
    
  });
  islets.forEach(p=>{
    const dot=mk("circle",{cx:x(p[0]),cy:y(p[1]),r:1.6,fill:"#000"},body);
    
    
  });
  const frame=mk("rect",{x:P.x0,y:P.y0,width:FRAME_W,height:FRAME_H,fill:"none",stroke:"#444","stroke-width":1.6},g);
  
  
  lonTicks.forEach(v=>{
    const tick=mk("line",{x1:x(v),x2:x(v),y1:y(-15),y2:y(-15)+5,stroke:"#444","stroke-width":1.4},g);
    
    
    const t=mk("text",{x:x(v)+5,y:y(-15)+22,"font-size":17,fill:"#333","text-anchor":"middle"},g);
    t.textContent=v+"\u00b0 E";
    fitText(t,43);
    
    
  });
  latTicks.forEach(v=>{
    const tick=mk("line",{x1:x(100)-5,x2:x(100),y1:y(v),y2:y(v),stroke:"#444","stroke-width":1.4},g);
    
    
    const s=v===0?"EQ":Math.abs(v)+"\u00b0 "+(v>0?"N":"S");
    const t=mk("text",{x:x(100)-9,y:y(v)+6,"font-size":17,fill:"#333","text-anchor":"end"},g);
    t.textContent=s;
    fitText(t,s.length===2?18:s.length===4?31:41);
    
    
  });
});

function colorbar(name,levels,colors,labels,x0,x1,top,bottom,tipTop,tipBottom,labelX,fmt,unit){
  const g=mk("g",{});
  
  
  const lo=levels[0],hi=levels[levels.length-1];
  const Y=v=>bottom-(v-lo)*(bottom-top)/(hi-lo);
  const mid=(x0+x1)/2;
  const low=mk("polygon",{points:`${x0},${bottom} ${x1},${bottom} ${mid},${tipBottom}`,fill:colors[0],stroke:"#333","stroke-width":1},g);
  
  
  const up=mk("polygon",{points:`${x0},${top} ${x1},${top} ${mid},${tipTop}`,fill:colors[colors.length-1],stroke:"#333","stroke-width":1},g);
  
  
  for(let i=0;i<levels.length-1;i++){
    const seg=mk("rect",{x:x0,y:Y(levels[i+1]),width:x1-x0,height:Y(levels[i])-Y(levels[i+1]),fill:colors[i+1],stroke:"#333","stroke-width":1},g);
    
    
  }
  labels.forEach(v=>{
    const t=mk("text",{x:labelX,y:Y(v*unit)+9,"font-size":26,"font-weight":"bold",fill:"#222"},g);
    const s=fmt(v);
    t.textContent=s;
    fitText(t,s.length*14.2-(s.indexOf(".")>=0?7:0));
    
    
  });
}
colorbar("anomaly-colorbar",anomalyLevels,anomalyColors,anomalyLabels,1284,1311,331.5,1157,304,1183,1317,v=>v===0?"0":(v<0?"\u2212":"")+Math.abs(v).toFixed(1),100);
colorbar("salinity-colorbar",salinityLevels,salinityColors,salinityLabels,1962,1990,351,1148,309,1189,1996,v=>String(v),100);
</script>
</body>
</html>
